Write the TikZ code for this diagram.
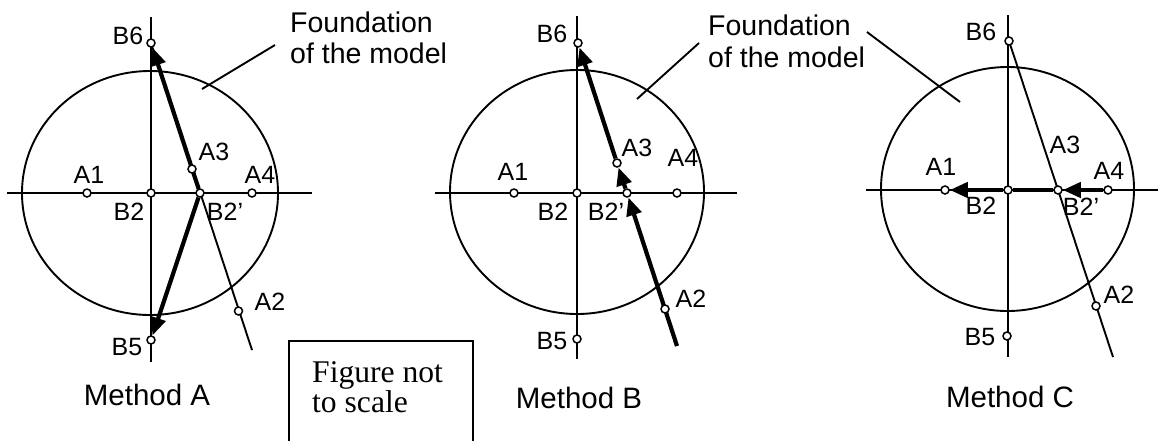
\documentclass[tikz,border=0pt]{standalone}
\usepackage{fontspec}
\setmainfont{Liberation Sans}
\newfontfamily\timesfont{Liberation Serif}
\usetikzlibrary{arrows.meta}
\pgfdeclarelayer{bg}
\pgfsetlayers{bg,main}
\begin{document}
\begin{tikzpicture}[x=1pt,y=-1pt,
  pt/.style={circle,draw,fill=white,inner sep=0pt,minimum size=8pt,line width=1.5pt},
  fineline/.style={line width=1.9pt},
  boldline/.style={line width=4.2pt},
  arr/.style={boldline,-{Triangle[length=18pt,width=15pt]}},
  lbl/.style={inner sep=0pt,font=\fontsize{25}{26}\selectfont},
  caption/.style={inner sep=0pt,font=\fontsize{29.5}{30}\selectfont},
  found/.style={inner sep=0pt,anchor=base west,font=\fontsize{28.5}{30}\selectfont},
  note/.style={inner sep=0pt,anchor=base west,font=\timesfont\fontsize{31.6}{32}\selectfont}]
\useasboundingbox (0,0) rectangle (1158,440);

% ---------------- Method A ----------------
\coordinate (aC) at (150,193);
\coordinate (aL) at (7,193);
\coordinate (aR) at (312,193);
\coordinate (aT) at (151,17);
\coordinate (aD) at (151,362);
\coordinate (aE) at (252,350);
\coordinate (aF1) at (202,89);
\coordinate (aF2) at (275,45);
\node[pt] (aB6) at (151,43) {};
\node[pt] (aB5) at (151,340) {};
\node[pt] (aB2) at (151,193) {};
\node[pt] (aA1) at (87,193) {};
\node[pt] (aB2p) at (200,193) {};
\node[pt] (aA4) at (252,193) {};
\node[pt] (aA3) at (192,169) {};
\node[pt] (aA2) at (238.5,311) {};
\begin{pgfonlayer}{bg}
\draw[fineline] (aC) ellipse [x radius=128, y radius=122];
\draw[fineline] (aL) -- (aR);
\draw[fineline] (aT) -- (aD);
\draw[fineline] (aB6.center) -- (aE);
\draw[arr] (aB2p) -- (aB6);
\draw[arr] (aB2p) -- (aB5);
\draw[fineline] (aF1) -- (aF2);
\end{pgfonlayer}
\node[lbl] (laB6) at (128,36) {B6};
\node[lbl] (laA1) at (89,175) {A1};
\node[lbl] (laA3) at (214,152) {A3};
\node[lbl] (laA4) at (260,175) {A4};
\node[lbl] (laB2) at (129,212) {B2};
\node[lbl] (laB2p) at (225,212) {B2'};
\node[lbl] (laA2) at (270,302) {A2};
\node[lbl] (laB5) at (127,347) {B5};
\node[caption] (capA) at (147,395) {Method A};
\node[found] (fa1) at (290,32) {Foundation};
\node[found] (fa2) at (290,63) {of the model};

% ---------------- note box ----------------
\coordinate (n1) at (289,442);
\coordinate (n2) at (289,341);
\coordinate (n3) at (473,341);
\coordinate (n4) at (473,442);
\draw[line width=1.6pt] (n1) -- (n2) -- (n3) -- (n4);
\node[note] (nt1) at (312,382) {Figure not};
\node[note] (nt2) at (312,412) {to scale};

% ---------------- Method B ----------------
\coordinate (bC) at (577,192);
\coordinate (bL) at (435,193);
\coordinate (bR) at (737,193);
\coordinate (bT) at (577,16);
\coordinate (bD) at (577,359);
\coordinate (bE) at (677,346);
\coordinate (bF1) at (637,99);
\coordinate (bF2) at (699,43);
\node[pt] (bB6) at (578,43) {};
\node[pt] (bB5) at (577,339) {};
\node[pt] (bB2) at (577,193) {};
\node[pt] (bA1) at (514,193) {};
\node[pt] (bB2p) at (627,193) {};
\node[pt] (bA4) at (677,193) {};
\node[pt] (bA3) at (617,163) {};
\node[pt] (bA2) at (665,309) {};
\begin{pgfonlayer}{bg}
\draw[fineline] (bC) ellipse [x radius=127, y radius=122];
\draw[fineline] (bL) -- (bR);
\draw[fineline] (bT) -- (bD);
\draw[arr] (bE) -- (bB2p);
\draw[arr] (bB2p) -- (bA3);
\draw[arr] (bA3) -- (bB6);
\draw[fineline] (bF1) -- (bF2);
\end{pgfonlayer}
\node[lbl] (lbB6) at (552,34) {B6};
\node[lbl] (lbA1) at (513,172) {A1};
\node[lbl] (lbA3) at (637,148) {A3};
\node[lbl] (lbA4) at (683,158) {A4};
\node[lbl] (lbB2) at (553,212) {B2};
\node[lbl] (lbB2p) at (606,212) {B2'};
\node[lbl] (lbA2) at (691,299) {A2};
\node[lbl] (lbB5) at (552,341) {B5};
\node[caption] (capB) at (579,398) {Method B};
\node[found] (fb1) at (708,35) {Foundation};
\node[found] (fb2) at (708,67) {of the model};

% ---------------- Method C ----------------
\coordinate (cC) at (1007.5,189);
\coordinate (cL) at (866,190);
\coordinate (cR) at (1160,190);
\coordinate (cT) at (1008,15);
\coordinate (cD) at (1008,357);
\coordinate (cE) at (1113,357);
\coordinate (cF1) at (960,102);
\coordinate (cF2) at (867,32);
\node[pt] (cB6) at (1009,41) {};
\node[pt] (cB5) at (1007,336) {};
\node[pt] (cB2) at (1008,190) {};
\node[pt] (cA1) at (945,190) {};
\node[pt] (cB2p) at (1058,190) {};
\node[pt] (cA4) at (1108,190) {};
\node[pt] (cA2) at (1096,306) {};
\begin{pgfonlayer}{bg}
\draw[fineline] (cC) ellipse [x radius=126.5, y radius=122];
\draw[fineline] (cL) -- (cR);
\draw[fineline] (cT) -- (cD);
\draw[fineline] (cB6.center) -- (cE);
\draw[arr] (cA4) -- (cB2p);
\draw[line width=3.4pt] (cB2p) -- (cB2);
\draw[arr] (cB2) -- (cA1);
\draw[fineline] (cF1) -- (cF2);
\end{pgfonlayer}
\node[lbl] (lcB6) at (981,32) {B6};
\node[lbl] (lcA1) at (941,167) {A1};
\node[lbl] (lcA3) at (1065,145) {A3};
\node[lbl] (lcA4) at (1109,171) {A4};
\node[lbl] (lcB2) at (981,206) {B2};
\node[lbl] (lcB2p) at (1081,207) {B2'};
\node[lbl] (lcA2) at (1119,295) {A2};
\node[lbl] (lcB5) at (980,337) {B5};
\node[caption] (capC) at (1010,397) {Method C};
\end{tikzpicture}
\end{document}
